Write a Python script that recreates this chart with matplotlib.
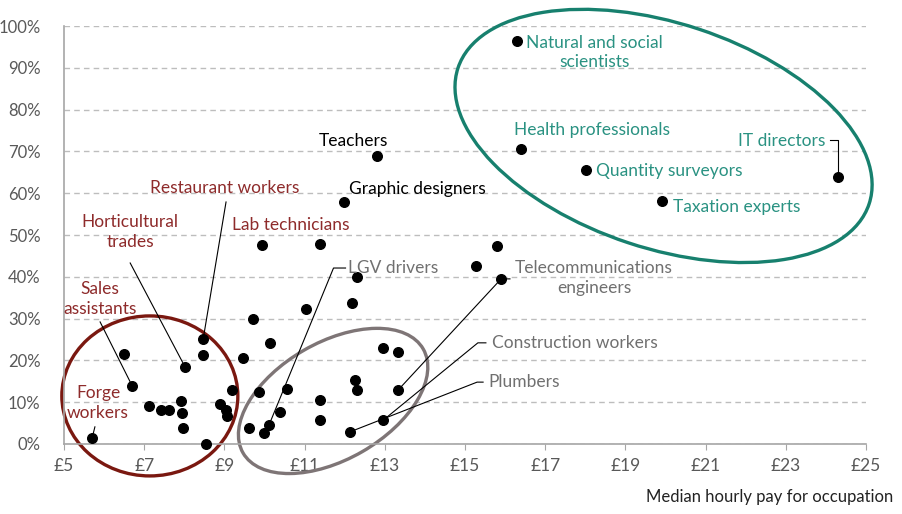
import matplotlib
matplotlib.use("Agg")
import matplotlib.pyplot as plt
from matplotlib.patches import Ellipse
from matplotlib.transforms import ScaledTranslation
from matplotlib.ticker import FuncFormatter

plt.rcParams["font.family"] = ["Lato", "DejaVu Sans"]

# median hourly pay (GBP) and share of workers (%) per occupation
pay = [5.70, 6.50, 6.70, 7.12, 7.42, 7.62, 7.92, 7.94, 7.97, 8.02,
       8.47, 8.47, 8.54, 8.89, 9.04, 9.06, 9.19, 9.46, 9.61, 9.71,
       9.86, 9.94, 9.99, 10.11, 10.14, 10.39, 10.56, 11.03, 11.38, 11.38,
       11.38, 12.18, 12.31, 11.98, 12.13, 12.26, 12.31, 12.96, 13.33, 13.33,
       12.96, 12.81, 15.27, 15.80, 15.90, 16.30, 16.40, 18.02, 19.91, 24.30]
share = [1.4, 21.5, 13.9, 9.1, 8.1, 8.1, 10.3, 7.4, 3.8, 18.4,
         25.1, 21.3, 0.1, 9.6, 8.1, 6.7, 12.9, 20.6, 3.8, 29.9,
         12.4, 47.6, 2.6, 4.5, 24.2, 7.7, 13.2, 32.3, 10.5, 5.7,
         47.8, 33.7, 40.0, 57.9, 2.9, 15.3, 12.9, 23.0, 22.0, 12.9,
         5.7, 68.9, 42.6, 47.4, 39.5, 96.4, 70.6, 65.6, 58.1, 63.9]

x_ticks = [5, 7, 9, 11, 13, 15, 17, 19, 21, 23, 25]
y_ticks = [0, 10, 20, 30, 40, 50, 60, 70, 80, 90, 100]

RED = "#8E2B2B"
RED_LINE = "#7A1810"
TEAL = "#2A9282"
TEAL_LINE = "#17806E"
GREY = "#707070"
GREY_LINE = "#7E7576"

# label, point index, text position, colour, alignment, leader path (text side first)
labels = [
    ("Forge\nworkers", 0, (5.85, 9.8), RED, "center", [(5.77, 4.1)]),
    ("Sales\nassistants", 2, (5.90, 34.7), RED, "center", [(5.90, 29.2)]),
    ("Horticultural\ntrades", 9, (6.65, 50.7), RED, "center", [(6.65, 43.3)]),
    ("Restaurant workers", 10, (9.01, 61.2), RED, "center", [(9.04, 57.9)]),
    ("Lab technicians", 21, (10.66, 52.4), RED, "center", None),
    ("LGV drivers", 23, (12.08, 42.1), GREY, "left", [(12.02, 42.1), (11.72, 42.1)]),
    ("Teachers", 41, (12.21, 72.5), "black", "center", None),
    ("Graphic designers", 33, (12.11, 61.0), "black", "left", None),
    ("Telecommunications\nengineers", 39, (18.22, 39.7), GREY, "center",
     [(16.12, 39.5), (15.90, 39.5)]),
    ("Construction workers", 40, (15.67, 24.2), GREY, "left", [(15.52, 24.2), (15.32, 24.2)]),
    ("Plumbers", 34, (15.57, 14.8), GREY, "left", [(15.45, 14.8), (15.30, 14.8)]),
    ("Natural and social\nscientists", 45, (18.22, 93.7), TEAL, "center", None),
    ("Health professionals", 46, (16.22, 75.1), TEAL, "left", None),
    ("Quantity surveyors", 47, (18.27, 65.3), TEAL, "left", None),
    ("Taxation experts", 48, (20.19, 56.7), TEAL, "left", None),
    ("IT directors", 49, (23.98, 72.5), TEAL, "right", [(24.10, 72.7), (24.30, 72.7)]),
]

# groups: centre (data), width/height (inches), angle, colour
groups = [
    ((7.14, 11.5), 1.76, 1.60, 0, RED_LINE),
    ((11.71, 10.3), 2.08, 1.17, 30, GREY_LINE),
    ((19.95, 73.7), 4.33, 2.25, -18.3, TEAL_LINE),
]

fig = plt.figure(figsize=(9.03, 5.14), dpi=100)
ax = fig.add_axes([0.0709, 0.1362, 0.8882, 0.8132])

ax.set_xlim(5, 25)
ax.set_ylim(0, 100)
ax.set_xticks(x_ticks)
ax.set_yticks(y_ticks)
ax.xaxis.set_major_formatter(FuncFormatter(lambda v, p: "£%d" % v))
ax.yaxis.set_major_formatter(FuncFormatter(lambda v, p: "%d%%" % v))
ax.tick_params(axis="x", length=4, color="#A6A6A6", labelsize=12.5, labelcolor="#595959", pad=6)
ax.tick_params(axis="y", length=0, labelsize=12, labelcolor="#595959", pad=17)
for lab in ax.get_xticklabels():
    lab.set_family(["Liberation Sans Narrow", "Lato"])

for s in ["top", "right"]:
    ax.spines[s].set_visible(False)
for s in ["left", "bottom"]:
    ax.spines[s].set_color("#A6A6A6")
    ax.spines[s].set_linewidth(1.2)

ax.yaxis.grid(True, color="#BDBDBD", linestyle=(0, (4, 3)), linewidth=1)
ax.set_axisbelow(True)

# leader lines
for text, idx, pos, col, ha, path in labels:
    if path is None:
        continue
    xs = [p[0] for p in path] + [pay[idx]]
    ys = [p[1] for p in path] + [share[idx]]
    ax.plot(xs, ys, color="black", lw=0.8, zorder=3, clip_on=False)

ax.scatter(pay, share, s=48, color="black", zorder=4, clip_on=False)

for text, idx, pos, col, ha, path in labels:
    ax.text(pos[0], pos[1], text, color=col, fontsize=12.5, ha=ha, va="center",
            multialignment="center", linespacing=1.25, zorder=5)

for centre, w, h, ang, col in groups:
    tr = fig.dpi_scale_trans + ScaledTranslation(centre[0], centre[1], ax.transData)
    ax.add_patch(Ellipse((0, 0), w, h, angle=ang, transform=tr, fill=False,
                         edgecolor=col, lw=2.4, zorder=2, clip_on=False))

fig.text(0.989, 0.018, "Median hourly pay for occupation", ha="right", va="bottom",
         fontsize=12, color="#222222")

fig.savefig("out.png", dpi=100)
